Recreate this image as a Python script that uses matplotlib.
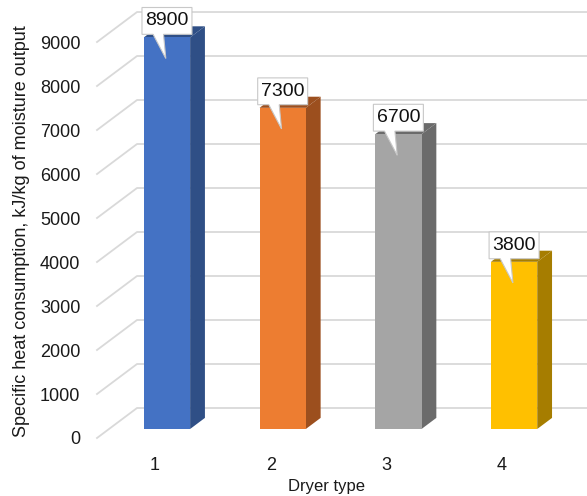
import numpy as np
import matplotlib.pyplot as plt
from matplotlib.patches import Polygon

plt.rcParams['font.family'] = ['Liberation Sans', 'DejaVu Sans']

dryers = ['1', '2', '3', '4']
heat_use = [8900, 7300, 6700, 3800]
front_colors = ['#4472C4', '#ED7D31', '#A5A5A5', '#FFC000']
side_colors = ['#2F4F86', '#9C4F1E', '#6B6B6B', '#A67D00']
yticks = np.arange(0, 10000, 1000)

# oblique projection: full depth of the floor in data units
depth_x, depth_y = 0.346, 682
bar_front, bar_back = 0.30, 0.67   # depth fractions of the bar faces
bar_w = 0.40

fig = plt.figure(figsize=(5.87, 4.96), dpi=100)
ax = fig.add_axes([97 / 587, 58 / 496, 490 / 587, 438 / 496])
ax.set_xlim(0.499, 4.734)
ax.set_ylim(0, 9955)
for s in ax.spines.values():
    s.set_visible(False)

# gridlines: slanted on the side wall, then along the back wall
x0 = 0.499
for v in yticks:
    ax.plot([x0, x0 + depth_x, 4.8], [v, v + depth_y, v + depth_y],
            color='#D9D9D9', lw=1.3, zorder=1, clip_on=False)

for i, (val, fc, sc) in enumerate(zip(heat_use, front_colors, side_colors)):
    c = i + 1 + bar_front * depth_x
    y0 = bar_front * depth_y
    xl, xr = c - bar_w / 2, c + bar_w / 2
    yt = y0 + val
    dx = (bar_back - bar_front) * depth_x
    dy = (bar_back - bar_front) * depth_y
    side = [(xr, y0), (xr + dx, y0 + dy), (xr + dx, yt + dy), (xr, yt)]
    top = [(xl, yt), (xr, yt), (xr + dx, yt + dy), (xl + dx, yt + dy)]
    ax.add_patch(Polygon(side, closed=True, fc=sc, ec='none', zorder=2))
    ax.add_patch(Polygon(top, closed=True, fc=sc, ec='none', zorder=2))
    ax.add_patch(Polygon([(xl, y0), (xr, y0), (xr, yt), (xl, yt)],
                         closed=True, fc=fc, ec='none', zorder=3))

    # callout with pointer
    bw, bh = 0.216, 610
    bb = yt + 70
    shape = [(c - bw, bb), (c - 0.12, bb), (c - 0.01, yt - 480),
             (c - 0.03, bb), (c + bw, bb), (c + bw, bb + bh), (c - bw, bb + bh)]
    ax.add_patch(Polygon(shape, closed=True, fc='white', ec='#C8C8C8',
                         lw=0.8, zorder=4))
    ax.text(c, bb + bh / 2, f'{val}', ha='center', va='center',
            fontsize=14, color='#111111', zorder=5)

ax.set_yticks(yticks)
ax.set_yticklabels([str(v) for v in yticks], fontsize=13, color='#1A1A1A')
ax.set_xticks(np.arange(1, 5))
ax.set_xticklabels(dryers, fontsize=13, color='#1A1A1A')
ax.tick_params(axis='both', length=0)
ax.tick_params(axis='y', pad=12)
ax.tick_params(axis='x', pad=14)

ax.set_xlabel('Dryer type', fontsize=12, color='#1A1A1A')
ax.set_ylabel('Specific heat consumption, kJ/kg of moisture output',
              fontsize=13, color='#1A1A1A', va='center')
ax.xaxis.set_label_coords(230 / 490, -41 / 438)
ax.yaxis.set_label_coords(-75 / 490, 207 / 438)

fig.savefig('out.png', dpi=100)
